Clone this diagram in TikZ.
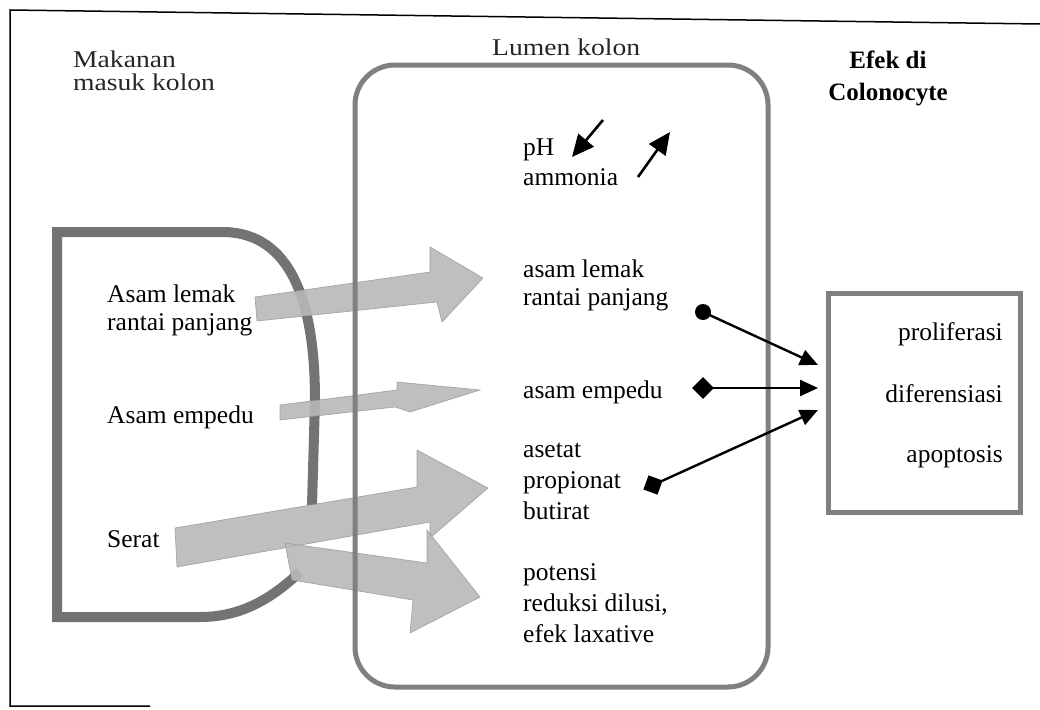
\documentclass[tikz,border=0pt]{standalone}
\usepackage{fontspec}
\setmainfont{Liberation Serif}
\newfontfamily\widefont[FakeStretch=1.15]{Liberation Serif}
\usetikzlibrary{arrows.meta,shapes.geometric}
\begin{document}
\begin{tikzpicture}[x=1pt,y=-1pt,
  txt/.style={anchor=base west,inner sep=0pt,font=\fontsize{25.5}{30}\selectfont},
  rtxt/.style={anchor=base east,inner sep=0pt,font=\fontsize{25.5}{30}\selectfont},
  ttl/.style={anchor=base west,inner sep=0pt,text=black!85,font=\widefont\fontsize{24}{24}\selectfont},
  bttl/.style={anchor=base,inner sep=0pt,font=\bfseries\fontsize{25}{30}\selectfont},
  band/.style={draw=black!55,line width=10pt},
  blockarrow/.style={fill=black!28,draw=black!40,line width=0.6pt,opacity=0.9},
  frame/.style={draw=black!50,line width=5pt},
  thinarrow/.style={draw=black,line width=2.4pt,-{Triangle[length=18pt,width=16pt]}},
  updown/.style={draw=black,line width=2.6pt,-{Triangle[length=22pt,width=20pt]}},
  dotnode/.style={circle,fill=black,inner sep=0pt,minimum size=16pt},
  diamondnode/.style={diamond,fill=black,inner sep=0pt,minimum width=22pt,minimum height=22pt},
  squarenode/.style={rectangle,fill=black,inner sep=0pt,minimum size=15pt,rotate=-20}]
\useasboundingbox (0,0) rectangle (1040,709);
% outer frame
\draw[line width=1.5pt] (1040,24) -- (10,10) -- (10,706) -- (150,706);
% left food shape
\draw[band,line cap=butt] (312,505) -- (315,400) .. controls (315,300) and (290,234) .. (225,232) -- (57,232) -- (57,617) -- (200,617) .. controls (240,617) and (270,600) .. (300,572);
% block arrows
\path[blockarrow] (255,297) -- (430,272) -- (430,247) -- (483,278) -- (442,322) -- (437,302) -- (257,321) -- cycle;
\path[blockarrow] (280,405) -- (397,390) -- (397,382) -- (480,390) -- (410,412) -- (395,407) -- (280,420) -- cycle;
\path[blockarrow] (175,528) -- (417,487) -- (417,450) -- (488,488) -- (430,538) -- (430,522) -- (177,567) -- cycle;
\path[blockarrow] (285,543) -- (427,563) -- (427,530) -- (480,597) -- (410,633) -- (413,600) -- (292,580) -- cycle;
% lumen and colonocyte boxes
\node[frame,rounded corners=40pt,minimum width=413pt,minimum height=622pt,inner sep=0pt] (lumen) at (561.5,376) {};
\node[frame,minimum width=192pt,minimum height=219pt,inner sep=0pt] (cell) at (924,402.5) {};
% titles
\node[ttl] (t1a) at (73,67) {Makanan};
\node[ttl] (t1b) at (73,90) {masuk kolon};
\node[ttl] (t2) at (492,56) {Lumen kolon};
\node[bttl] (t3a) at (888,68) {Efek di};
\node[bttl] (t3b) at (888,100) {Colonocyte};
% left texts
\node[txt] (l1) at (107,302) {Asam lemak};
\node[txt] (l2) at (107,330) {rantai panjang};
\node[txt] (l3) at (107,423) {Asam empedu};
\node[txt] (l4) at (107,547) {Serat};
% lumen texts
\node[txt] (ph) at (523,155) {pH};
\node[txt] (am) at (523,185) {ammonia};
\node[txt] (m1) at (523,277) {asam lemak};
\node[txt] (m2) at (523,305) {rantai panjang};
\node[txt] (m3) at (523,398) {asam empedu};
\node[txt] (m4) at (523,457) {asetat};
\node[txt] (m5) at (523,488) {propionat};
\node[txt] (m6) at (523,519) {butirat};
\node[txt] (m7) at (523,580) {potensi};
\node[txt] (m8) at (523,611) {reduksi dilusi,};
\node[txt] (m9) at (523,642) {efek laxative};
% right texts
\node[rtxt] (r1) at (1003,340) {proliferasi};
\node[rtxt] (r2) at (1003,402) {diferensiasi};
\node[rtxt] (r3) at (1003,462) {apoptosis};
% up/down arrows
\coordinate (pa) at (603,120);
\coordinate (pb) at (572,157);
\coordinate (aa) at (638,177);
\coordinate (ab) at (670,132);
\draw[updown] (pa) -- (pb);
\draw[updown] (aa) -- (ab);
% connectors
\node[dotnode] (c1) at (703,312) {};
\node[diamondnode] (c2) at (703,388) {};
\node[squarenode] (c3) at (653,485) {};
\coordinate (e1) at (818,365);
\coordinate (e2) at (818,388);
\coordinate (e3) at (818,410);
\draw[thinarrow] (c1.center) -- (e1);
\draw[thinarrow] (c2.center) -- (e2);
\draw[thinarrow] (c3.center) -- (e3);
\end{tikzpicture}
\end{document}
